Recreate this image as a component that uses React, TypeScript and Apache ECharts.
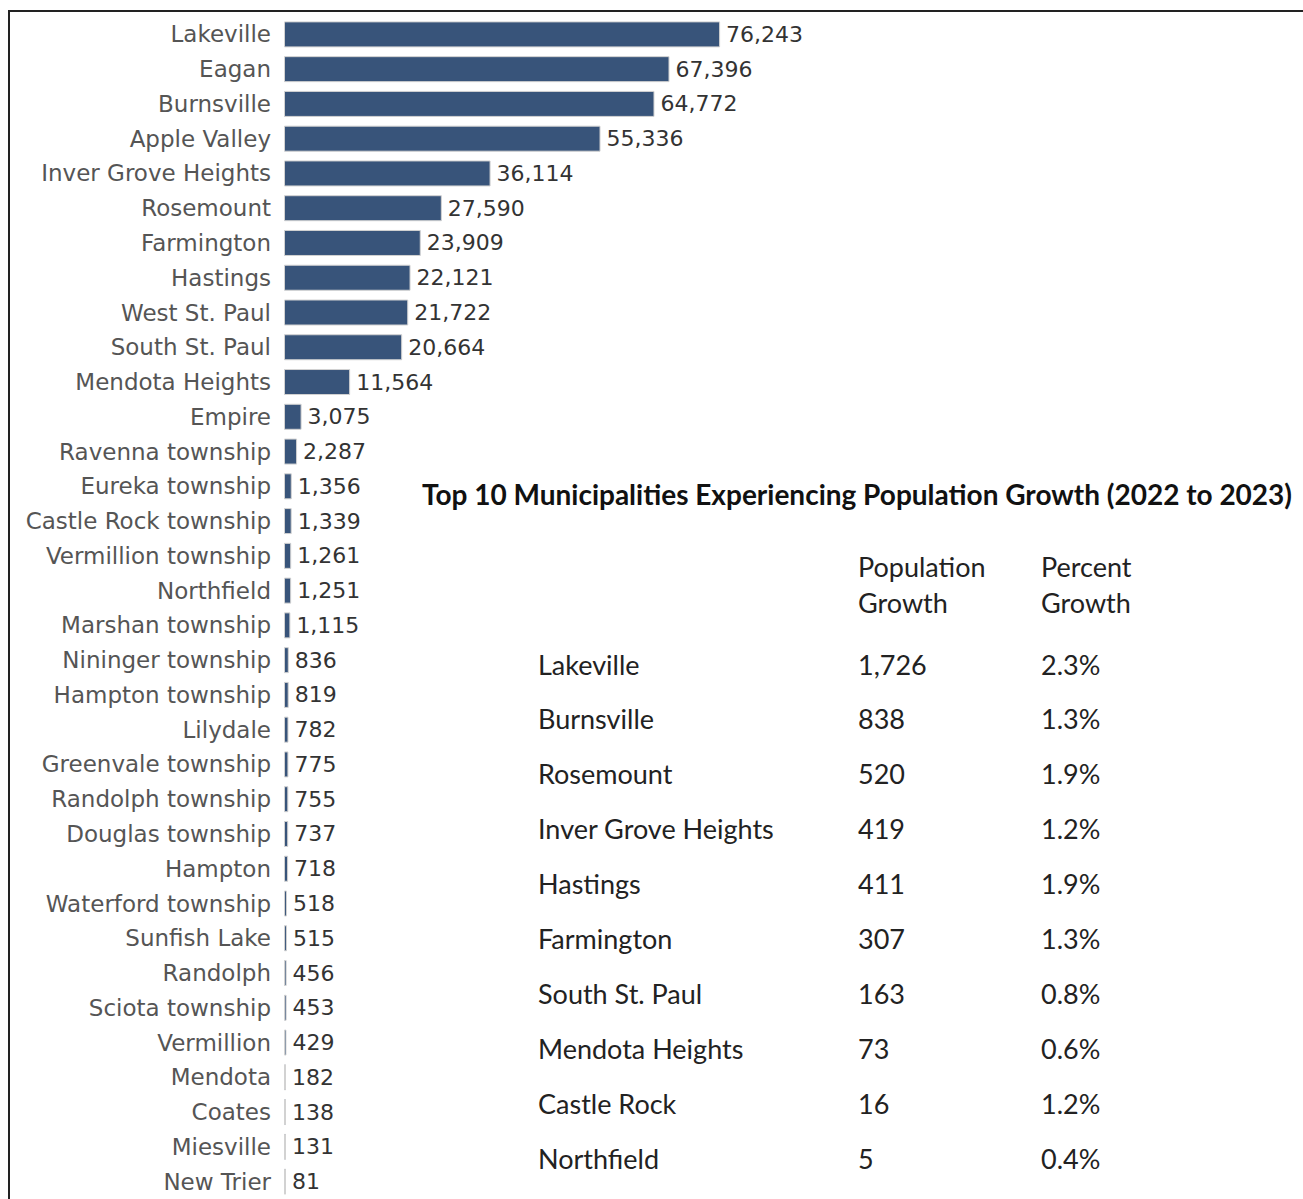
import React, { useEffect, useRef } from "react";
import * as echarts from "echarts";

const cities = [
  "Lakeville", "Eagan", "Burnsville", "Apple Valley", "Inver Grove Heights", "Rosemount",
  "Farmington", "Hastings", "West St. Paul", "South St. Paul", "Mendota Heights", "Empire",
  "Ravenna township", "Eureka township", "Castle Rock township", "Vermillion township",
  "Northfield", "Marshan township", "Nininger township", "Hampton township", "Lilydale",
  "Greenvale township", "Randolph township", "Douglas township", "Hampton",
  "Waterford township", "Sunfish Lake", "Randolph", "Sciota township", "Vermillion",
  "Mendota", "Coates", "Miesville", "New Trier",
];
const population = [
  76243, 67396, 64772, 55336, 36114, 27590, 23909, 22121, 21722, 20664, 11564, 3075,
  2287, 1356, 1339, 1261, 1251, 1115, 836, 819, 782, 775, 755, 737, 718, 518, 515,
  456, 453, 429, 182, 138, 131, 81,
];

const tableTitle = "Top 10 Municipalities Experiencing Population Growth (2022 to 2023)";
const tableHeaders = [["Population", "Growth"], ["Percent", "Growth"]];
const topNames = [
  "Lakeville", "Burnsville", "Rosemount", "Inver Grove Heights", "Hastings",
  "Farmington", "South St. Paul", "Mendota Heights", "Castle Rock", "Northfield",
];
const topGrowth = ["1,726", "838", "520", "419", "411", "307", "163", "73", "16", "5"];
const topPercent = ["2.3%", "1.3%", "1.9%", "1.2%", "1.9%", "1.3%", "0.8%", "0.6%", "1.2%", "0.4%"];

export default function App() {
  const ref = useRef<HTMLDivElement>(null);
  useEffect(() => {
    if (!ref.current) return;
    const chart = echarts.init(ref.current, null, { renderer: "svg" });
    const labelFont = "'DejaVu Sans', 'Noto Sans', sans-serif";
    const tableFont = "Lato, 'Open Sans', sans-serif";
    const graphics: any[] = [
      {
        type: "rect",
        shape: { x: 9, y: 11, width: 1400, height: 1300 },
        style: { fill: "none", stroke: "#222", lineWidth: 2 },
        silent: true,
      },
      {
        type: "text",
        x: 422,
        y: 494,
        style: {
          text: tableTitle,
          font: `bold 28px ${tableFont}`,
          fill: "#111",
          textVerticalAlign: "middle",
        },
      },
    ];
    const colX = [858, 1041];
    tableHeaders.forEach((h, i) => {
      h.forEach((line, j) => {
        graphics.push({
          type: "text",
          x: colX[i],
          y: 566 + j * 36,
          style: { text: line, font: `27px ${tableFont}`, fill: "#222", textVerticalAlign: "middle" },
        });
      });
    });
    topNames.forEach((n, i) => {
      const y = 664 + i * 54.9;
      [n, topGrowth[i], topPercent[i]].forEach((t, k) => {
        graphics.push({
          type: "text",
          x: k === 0 ? 538 : colX[k - 1],
          y,
          style: { text: t, font: `27px ${tableFont}`, fill: "#222", textVerticalAlign: "middle" },
        });
      });
    });

    chart.setOption({
      animation: false,
      grid: { left: 284, top: 17, width: 572, height: 1185, containLabel: false },
      xAxis: { type: "value", min: 0, max: 100000, show: false },
      yAxis: {
        type: "category",
        data: cities,
        inverse: true,
        axisLine: { show: false },
        axisTick: { show: false },
        axisLabel: { color: "#555", fontSize: 23, fontFamily: labelFont, margin: 13 },
      },
      series: [
        {
          type: "bar",
          data: population,
          barWidth: 26,
          barMinHeight: 2,
          itemStyle: { color: "#38547a", borderColor: "#d2d2d2", borderWidth: 1 },
          label: {
            show: true,
            position: "right",
            distance: 6,
            color: "#333",
            fontSize: 22,
            fontFamily: labelFont,
            formatter: (p: any) => p.value.toLocaleString("en-US"),
          },
        },
      ],
      graphic: graphics,
    });
    return () => chart.dispose();
  }, []);
  return (
    <div
      ref={ref}
      style={{ position: "fixed", left: 0, top: 0, width: 1303, height: 1199, background: "#fff" }}
    />
  );
}
